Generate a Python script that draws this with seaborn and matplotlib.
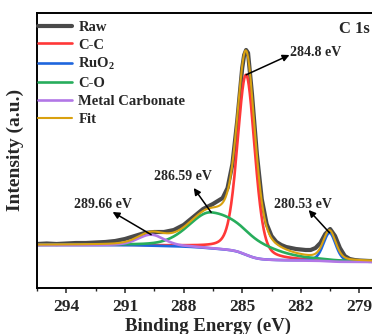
import numpy as np
import pandas as pd
import seaborn as sns
import matplotlib.pyplot as plt
from matplotlib.ticker import MultipleLocator

# ---- measured C 1s spectrum (binding energy in eV, intensity in a.u.) ----
raw_energy = [295.5, 295.0, 294.5, 294.0, 293.5, 293.0, 292.5, 292.0, 291.5, 291.0,
              290.5, 290.0, 289.5, 289.0, 288.5, 288.0, 287.5, 287.0, 286.5, 286.0,
              285.75, 285.5, 285.25, 285.0, 284.9, 284.8, 284.7, 284.5, 284.25, 284.0,
              283.75, 283.5, 283.25, 283.0, 282.75, 282.5, 282.25, 282.0, 281.75, 281.5,
              281.25, 281.0, 280.75, 280.5, 280.25, 280.0, 279.75, 279.5, 279.25, 279.0,
              278.5, 278.0]
raw_intensity = [44.0, 44.5, 44.0, 44.5, 45.0, 45.0, 45.5, 46.0, 47.0, 49.0,
                 52.0, 55.0, 56.0, 56.0, 58.0, 63.0, 71.0, 79.0, 84.0, 90.0,
                 100.0, 124.0, 168.0, 220.0, 233.0, 238.0, 235.0, 194.0, 134.0, 89.0,
                 64.0, 52.0, 46.0, 43.0, 41.0, 40.0, 39.0, 38.5, 38.0, 38.0,
                 40.0, 45.0, 54.0, 59.0, 52.0, 40.0, 32.0, 29.0, 28.0, 27.5,
                 27.0, 27.0]

# ---- fitted components (pseudo-Voigt, Shirley background) ----
component_names = ["C-C", "RuO$_2$", "C-O", "Metal Carbonate"]
peak_centers = [284.8, 280.53, 286.59, 289.66]
peak_heights = [180.0, 28.5, 36.0, 11.0]
fwhm_high_be = [1.05, 0.75, 2.7, 1.6]
fwhm_low_be = [1.05, 0.75, 4.8, 1.6]
gl_mix = 0.3
background_high_be = 43.0
background_low_be = 26.0

peak_labels = ["284.8 eV", "280.53 eV", "286.59 eV", "289.66 eV"]

colors = {"Raw": "#4a4a4a", "C-C": "#ff3838", "RuO$_2$": "#1f66dd",
          "C-O": "#27ad5c", "Metal Carbonate": "#b277e6", "Fit": "#d9a10f"}

sns.set_style("ticks")
plt.rcParams["font.family"] = ["Liberation Serif", "DejaVu Serif"]
plt.rcParams["font.weight"] = "bold"
plt.rcParams["axes.labelweight"] = "bold"
plt.rcParams["mathtext.fontset"] = "custom"
plt.rcParams["mathtext.rm"] = "Liberation Serif:bold"
plt.rcParams["mathtext.it"] = "Liberation Serif:bold"
plt.rcParams["mathtext.bf"] = "Liberation Serif:bold"
plt.rcParams["mathtext.default"] = "rm"

energy = np.linspace(278.0, 295.5, 1401)


def pseudo_voigt(e, center, height, w_high, w_low):
    w = np.where(e >= center, w_high, w_low)
    u = (e - center) ** 2 / w ** 2
    return height * ((1 - gl_mix) * np.exp(-4 * np.log(2) * u) + gl_mix / (1 + 4 * u))


peaks = [pseudo_voigt(energy, c, h, wh, wl)
         for c, h, wh, wl in zip(peak_centers, peak_heights, fwhm_high_be, fwhm_low_be)]
peak_sum = np.sum(peaks, axis=0)
cum = np.cumsum(peak_sum)
background = background_low_be + (background_high_be - background_low_be) * cum / cum[-1]
fit = background + peak_sum

fig = plt.figure(figsize=(3.72, 3.34), dpi=100)
ax = fig.add_axes([37 / 372, 46 / 334, 342 / 372, 275.5 / 334])

sns.lineplot(x=raw_energy, y=raw_intensity, color=colors["Raw"], lw=3.0,
             label="Raw", ax=ax, sort=False, estimator=None)
for name, pk in zip(component_names, peaks):
    sns.lineplot(x=energy, y=background + pk, color=colors[name], lw=1.9,
                 label=name, ax=ax, sort=False, estimator=None)
sns.lineplot(x=energy, y=fit, color=colors["Fit"], lw=1.5, label="Fit",
             ax=ax, sort=False, estimator=None)

ax.set_xlim(295.5, 278.0)
ax.set_ylim(0, 275.5)
ax.xaxis.set_major_locator(MultipleLocator(3))
ax.xaxis.set_minor_locator(MultipleLocator(1.5))
ax.set_yticks([])
ax.tick_params(axis="x", which="major", direction="out", length=3.8, width=1.1,
               labelsize=12.5, pad=4)
ax.tick_params(axis="x", which="minor", direction="out", length=2.2, width=1.0)
for lab in ax.get_xticklabels():
    lab.set_fontweight("bold")
for sp in ax.spines.values():
    sp.set_linewidth(1.4)
    sp.set_color("black")

ax.set_xlabel("Binding Energy (eV)", fontsize=13.5, fontweight="bold", labelpad=2)
ax.set_ylabel("Intensity (a.u.)", fontsize=14, fontweight="bold", labelpad=9)

ax.text(0.882, 0.94, "C 1s", transform=ax.transAxes, fontsize=12,
        fontweight="bold", ha="left", va="center")

leg = ax.legend(loc="upper left", bbox_to_anchor=(0.004, 0.971), frameon=False,
                fontsize=10.5, handlelength=2.3, handletextpad=0.45,
                labelspacing=0.32, borderaxespad=0, borderpad=0)
for t in leg.get_texts():
    t.set_fontweight("bold")

# arrows from each component maximum to its label
bg_at = lambda e: np.interp(e, energy, background)
arrow_heads = [(282.58, 233.0), (281.6, 78.0), (287.48, 100.0), (291.63, 76.0)]
text_pos = [(282.53, 235.0, "left"), (281.9, 84.0, "center"),
            (288.04, 111.0, "center"), (292.14, 84.0, "center")]
for c, h, head, tp, lab in zip(peak_centers, peak_heights, arrow_heads, text_pos, peak_labels):
    tail = (c, bg_at(c) + h)
    ax.annotate("", xy=head, xytext=tail,
                arrowprops=dict(arrowstyle="-|>", color="black", lw=1.1,
                                mutation_scale=10, shrinkA=0, shrinkB=0))
    ax.text(tp[0], tp[1], lab, fontsize=10, fontweight="bold", ha=tp[2], va="center")

fig.savefig("out.png", dpi=100)
